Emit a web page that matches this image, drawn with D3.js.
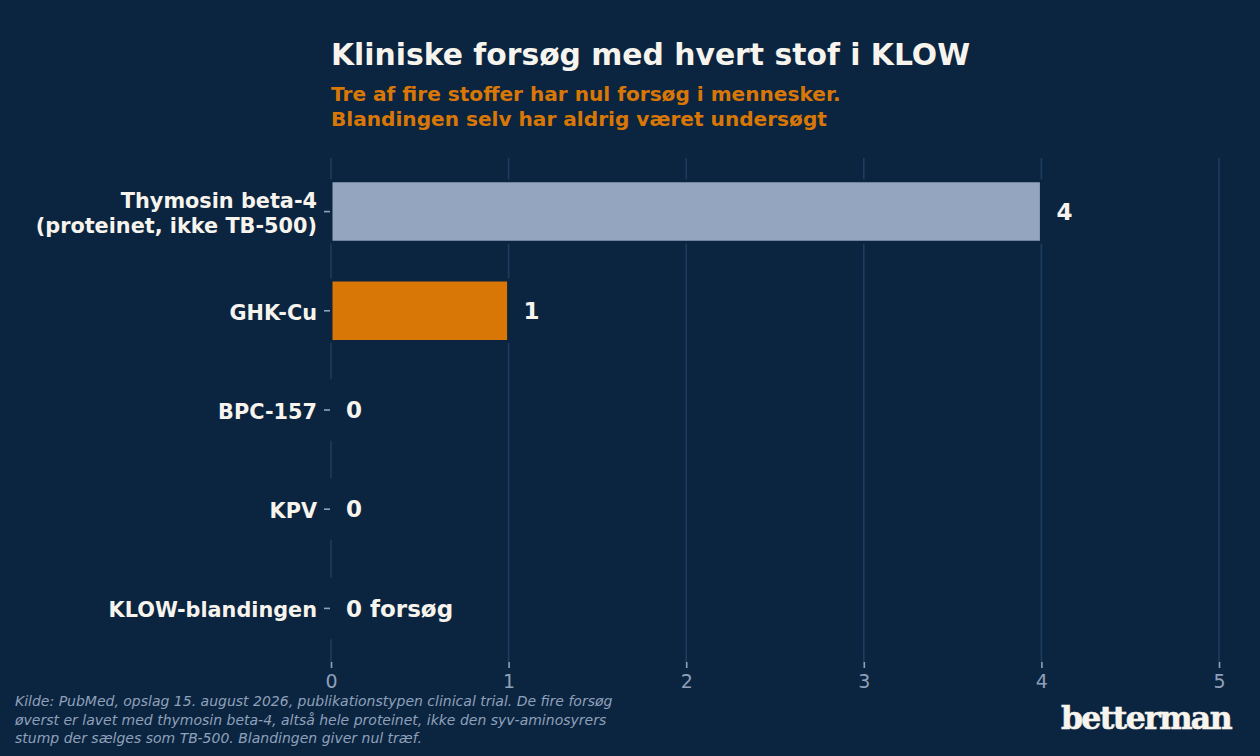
<!DOCTYPE html>
<html><head><meta charset="utf-8">
<script src="https://cdn.jsdelivr.net/npm/d3@7/dist/d3.min.js"></script>
<style>
html,body{margin:0;padding:0;background:#0b2540;}
svg{display:block;}
</style></head>
<body>
<svg id="chart" width="1260" height="756"></svg>
<script>
const categories = [["Thymosin beta-4","(proteinet, ikke TB-500)"],["GHK-Cu"],["BPC-157"],["KPV"],["KLOW-blandingen"]];
const values = [4, 1, 0, 0, 0];
const valueLabels = ["4", "1", "0", "0", "0 forsøg"];
const barColors = ["#94a5bf", "#d97706", "#94a5bf", "#94a5bf", "#94a5bf"];
const xTicks = [0, 1, 2, 3, 4, 5];
const titleText = "Kliniske forsøg med hvert stof i KLOW";
const subtitleLines = ["Tre af fire stoffer har nul forsøg i mennesker.", "Blandingen selv har aldrig været undersøgt"];
const footerLines = ["Kilde: PubMed, opslag 15. august 2026, publikationstypen clinical trial. De fire forsøg",
  "øverst er lavet med thymosin beta-4, altså hele proteinet, ikke den syv-aminosyrers",
  "stump der sælges som TB-500. Blandingen giver nul træf."];

const BG = "#0b2540";
const svg = d3.select("#chart");
svg.append("rect").attr("width",1260).attr("height",756).attr("fill",BG);

const x = d3.scaleLinear().domain([0,5]).range([331,1219]);
const y = d3.scaleBand().domain(d3.range(categories.length)).range([162,658]).paddingInner(0.38).paddingOuter(0.19);
const gridTop = 158, gridBottom = 662;

// gridlines
svg.append("g").selectAll("line").data(xTicks).join("line")
  .attr("x1",d=>x(d)).attr("x2",d=>x(d)).attr("y1",gridTop).attr("y2",gridBottom)
  .attr("stroke","#1e3c60").attr("stroke-width",1.6);

// bars (paths so zero-width bars still draw their edge)
svg.append("g").selectAll("path").data(values).join("path")
  .attr("d",(d,i)=>{
    const x0=x(0), x1=x(d), y0=y(i), y1=y(i)+y.bandwidth();
    return `M${x0},${y0}H${x1}V${y1}H${x0}Z`;
  })
  .attr("fill",(d,i)=>barColors[i]).attr("stroke",BG).attr("stroke-width",3);

// value labels
svg.append("g").selectAll("text").data(values).join("text")
  .attr("x",d=>x(d)+15).attr("y",(d,i)=>y(i)+y.bandwidth()/2)
  .attr("dy","0.36em")
  .attr("font-family","DejaVu Sans").attr("font-weight","bold").attr("font-size",23)
  .attr("fill","#f7f4ee").text((d,i)=>valueLabels[i]);

// x axis
const xAxis = d3.axisBottom(x).tickValues(xTicks).tickFormat(d3.format("d")).tickSize(6).tickPadding(7);
const gx = svg.append("g").attr("transform",`translate(0,${gridBottom})`).call(xAxis);
gx.select(".domain").remove();
gx.selectAll("line").attr("stroke","#8fa0bb").attr("stroke-width",1.6);
gx.selectAll("text").attr("fill","#8fa0bb").attr("font-family","DejaVu Sans").attr("font-size",19);

// y axis
const yAxis = d3.axisLeft(y).tickSize(6).tickPadding(8).tickFormat("");
const gy = svg.append("g").attr("transform",`translate(${x(0)-1},0)`).call(yAxis);
gy.select(".domain").remove();
gy.selectAll("line").attr("stroke","#8fa0bb").attr("stroke-width",1.6);
gy.selectAll(".tick").each(function(d){
  const lines = categories[d];
  const t = d3.select(this).append("text")
    .attr("x",-13).attr("text-anchor","end")
    .attr("font-family","DejaVu Sans").attr("font-weight","bold").attr("font-size",20.8)
    .attr("fill","#f7f4ee");
  const lh = 25.5;
  lines.forEach((s,k)=>{
    t.append("tspan").attr("x",-13)
     .attr("y", (k-(lines.length-1)/2)*lh).attr("dy","0.42em").text(s);
  });
});

// title & subtitle
svg.append("text").attr("x",331).attr("y",65)
  .attr("font-family","DejaVu Sans").attr("font-weight","bold").attr("font-size",29.8)
  .attr("fill","#f7f4ee").text(titleText);
svg.append("g").selectAll("text").data(subtitleLines).join("text")
  .attr("x",331).attr("y",(d,i)=>101+i*25)
  .attr("font-family","DejaVu Sans").attr("font-weight","bold").attr("font-size",20.1)
  .attr("fill","#d97706").text(d=>d);

// footer
svg.append("g").selectAll("text").data(footerLines).join("text")
  .attr("x",15).attr("y",(d,i)=>706+i*18.5)
  .attr("font-family","DejaVu Sans").attr("font-style","italic").attr("font-size",14)
  .attr("fill","#8fa0bb").text(d=>d);

// logo
svg.append("text").attr("x",1231).attr("y",729).attr("text-anchor","end")
  .attr("font-family","DejaVu Serif").attr("font-weight","bold").attr("font-size",31.5)
  .attr("letter-spacing",-1.6).attr("stroke","#f7f4ee").attr("stroke-width",0.6)
  .attr("fill","#f7f4ee").text("betterman");
</script>
</body></html>
